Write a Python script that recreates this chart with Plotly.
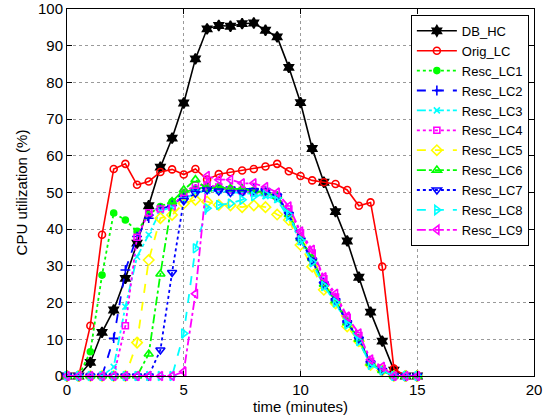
import plotly.graph_objects as go

time_min = [i * 0.5 for i in range(31)]

db_hc = [0, 0, 3.7, 11.9, 18, 26.6, 36.2, 46.4, 56.9, 64.8, 74.4, 86.4, 94.6, 95.5, 95.3, 96.0,
         96.2, 94.2, 92.4, 84.1, 74.5, 62, 52.8, 44.8, 36.8, 26.9, 17.4, 9.5, 1.6, 0, 0]
orig_lc = [0, 0, 13.7, 38.5, 56.4, 57.8, 52.1, 53, 55.6, 56.3, 54.9, 56.4, 53.5, 55, 55.5, 56,
           56.4, 57.1, 57.8, 55.8, 54.5, 53.3, 52.8, 52.3, 50.7, 46.4, 47.3, 29.8, 2.0, 0, 0]
resc_lc1 = [0, 0, 6.6, 27.5, 44.4, 42.5, 39.4, 44, 46.2, 47.5, 50, 51, 51.5, 51, 51, 50.5,
            50.5, 50, 48.5, 44.5, 37.5, 32, 25, 21, 15, 10.5, 3.5, 1.5, 0, 0, 0]
resc_lc2 = [0, 0, 0, 0, 10.3, 28.9, 38, 43, 45.5, 46.5, 49, 51, 51.5, 51.5, 51.5, 51,
            51, 50.5, 49, 44.5, 37.5, 32, 25.5, 20.5, 14.5, 10, 3.5, 1.5, 0, 0, 0]
resc_lc3 = [0, 0, 0, 0, 2.5, 18.9, 32.5, 38.5, 45, 46, 48, 50, 50.5, 50.5, 50, 50,
            49.5, 49, 48, 43, 36.5, 31, 24.5, 20, 14, 9.5, 3, 1.5, 0, 0, 0]
resc_lc4 = [0, 0, 0, 0, 0, 13.7, 37.8, 44.5, 45.5, 46, 50, 52, 52, 51.5, 50.7, 50.5,
            50, 50, 49, 45.5, 39, 33.5, 26.5, 21.5, 16, 11, 4, 2, 0, 0, 0]
resc_lc5 = [0, 0, 0, 0, 0, 0, 9.1, 31.6, 43, 43.9, 47, 48, 47.5, 46.6, 46.5, 46,
            46.5, 46, 44, 42.5, 35.7, 29.8, 23.5, 19.8, 13.5, 9.5, 3, 1.5, 0, 0, 0]
resc_lc6 = [0, 0, 0, 0, 0, 0, 0, 6, 27.8, 47.5, 50.7, 53.5, 51, 51.5, 51, 51,
            50.5, 50, 49, 44, 37.5, 32, 25, 20.5, 14.5, 10, 3.5, 1.5, 0, 0, 0]
resc_lc7 = [0, 0, 0, 0, 0, 0, 0, 0, 7.1, 28.2, 47.8, 49.8, 50.7, 50.4, 50, 50,
            50.5, 50.5, 49, 44, 37, 31.5, 25, 20.5, 14.5, 10, 3.5, 1.5, 0, 0, 0]
resc_lc8 = [0, 0, 0, 0, 0, 0, 0, 0, 0, 0, 11.6, 34.8, 45.7, 46.6, 47, 48,
            49, 49.5, 48.5, 44, 37, 31, 24.5, 20, 14, 9.5, 3, 1.5, 0, 0, 0]
resc_lc9 = [0, 0, 0, 0, 0, 0, 0, 0, 0, 0, 1.2, 22.4, 54.5, 53.5, 53.5, 52.5,
            52.5, 51.5, 50, 46.2, 39.4, 34.4, 26.9, 22.4, 16.2, 11.6, 4.5, 2.5, 0, 0, 0]

x_ticks = [0, 5, 10, 15, 20]
y_ticks = [0, 10, 20, 30, 40, 50, 60, 70, 80, 90, 100]

series = [
    ("DB_HC", db_hc, "black", "solid", "hexagram", 8),
    ("Orig_LC", orig_lc, "red", "solid", "circle-open", 7),
    ("Resc_LC1", resc_lc1, "#00ff00", "dot", "circle", 6),
    ("Resc_LC2", resc_lc2, "blue", "dash", "cross-thin-open", 7),
    ("Resc_LC3", resc_lc3, "cyan", "dashdot", "x-thin-open", 6),
    ("Resc_LC4", resc_lc4, "magenta", "dot", "square-open", 6),
    ("Resc_LC5", resc_lc5, "yellow", "dash", "diamond-open", 8),
    ("Resc_LC6", resc_lc6, "#00ff00", "dashdot", "triangle-up-open", 8),
    ("Resc_LC7", resc_lc7, "blue", "dot", "triangle-down-open", 8),
    ("Resc_LC8", resc_lc8, "cyan", "dash", "triangle-right-open", 8),
    ("Resc_LC9", resc_lc9, "magenta", "dashdot", "triangle-left-open", 8),
]

fig = go.Figure()
for name, vals, color, dash, sym, size in series:
    fig.add_trace(go.Scatter(
        x=time_min, y=vals, name=name, mode="lines+markers",
        line=dict(color=color, dash=dash, width=1.6 if name in ("DB_HC", "Orig_LC") else 1.8),
        marker=dict(symbol=sym, size=size, color=color,
                    line=dict(color=color, width=1.6)),
        cliponaxis=False,
    ))

axis_common = dict(
    showline=True, linecolor="black", linewidth=1, mirror="ticks",
    ticks="inside", ticklen=5, tickcolor="black",
    showgrid=True, gridcolor="#9a9a9a", griddash="dot", gridwidth=1,
    zeroline=False, tickfont=dict(size=15, color="black"), automargin=False,
)

fig.update_xaxes(range=[0, 20], tickvals=x_ticks, ticktext=[str(v) for v in x_ticks],
                 title=dict(text="time (minutes)", font=dict(size=15, color="black"), standoff=2),
                 **axis_common)
fig.update_yaxes(range=[0, 100], tickvals=y_ticks, ticktext=[str(v) for v in y_ticks],
                 title=dict(text="CPU utilization (%)", font=dict(size=15, color="black"), standoff=6),
                 **axis_common)

fig.update_layout(
    width=549, height=419,
    margin=dict(l=67, r=15, t=9, b=43),
    paper_bgcolor="white", plot_bgcolor="white",
    font=dict(family="Liberation Sans, Arial, sans-serif", color="black"),
    legend=dict(x=0.989, y=0.984, xanchor="right", yanchor="top",
                bgcolor="white", bordercolor="black", borderwidth=1,
                font=dict(size=13), tracegroupgap=0, itemwidth=40),
    showlegend=True,
)

fig.write_html("out.html", config={"displayModeBar": False},
               post_script="document.body.style.margin='0';document.body.style.overflow='hidden';")
